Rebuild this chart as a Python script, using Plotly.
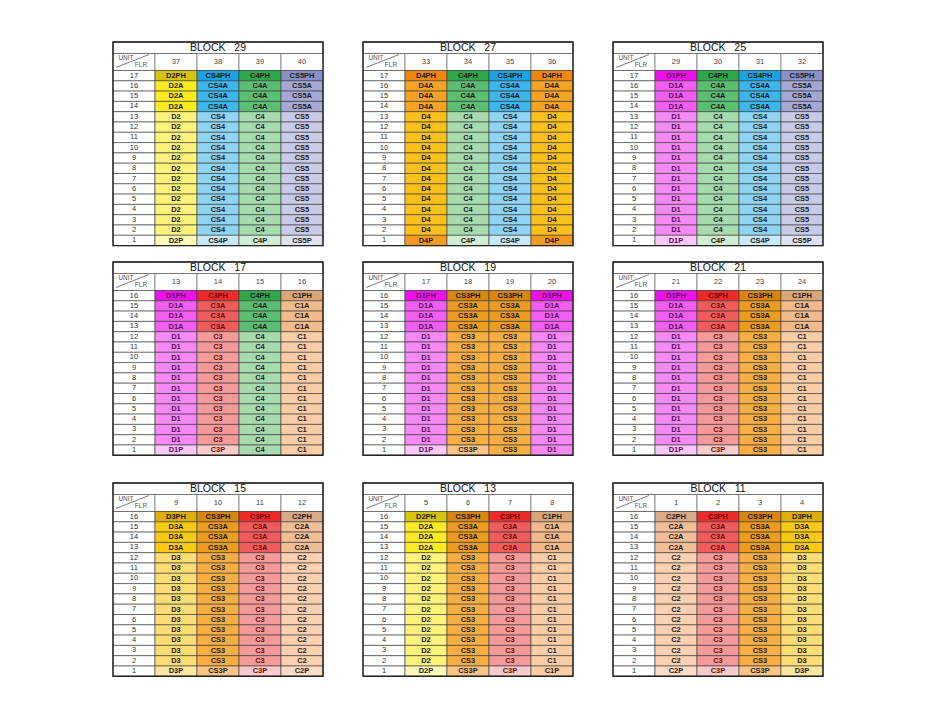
import plotly.graph_objects as go

# block layout: 3 x 3 grid of floor/unit tables
block_names = ["29", "27", "25", "17", "19", "21", "15", "13", "11"]
block_units = [
    [37, 38, 39, 40], [33, 34, 35, 36], [29, 30, 31, 32],
    [13, 14, 15, 16], [17, 18, 19, 20], [21, 22, 23, 24],
    [9, 10, 11, 12], [5, 6, 7, 8], [1, 2, 3, 4],
]
block_floors = [17, 17, 17, 16, 16, 16, 16, 16, 16]
block_types = [
    ["D2", "CS4", "C4", "CS5"], ["D4", "C4", "CS4", "D4"], ["D1", "C4", "CS4", "CS5"],
    ["D1", "C3", "C4", "C1"], ["D1", "CS3", "CS3", "D1"], ["D1", "C3", "CS3", "C1"],
    ["D3", "CS3", "C3", "C2"], ["D2", "CS3", "C3", "C1"], ["C2", "C3", "CS3", "D3"],
]
block_ground = [
    ["D2P", "CS4P", "C4P", "CS5P"], ["D4P", "C4P", "CS4P", "D4P"], ["D1P", "C4P", "CS4P", "CS5P"],
    ["D1P", "C3P", "C4", "C1"], ["D1P", "CS3P", "CS3", "D1"], ["D1P", "C3P", "CS3", "C1"],
    ["D3P", "CS3P", "C3P", "C2P"], ["D2P", "CS3P", "C3P", "C1P"], ["C2P", "C3P", "CS3P", "D3P"],
]

# colours per type: (PH, A, typical, P)
palette = {
    "D1": ("#ee10ee", "#f25ef2", "#f58af5", "#f8c8f8"),
    "D2": ("#d6c40a", "#fcea22", "#fdf27c", "#fef8b8"),
    "D3": ("#dcae06", "#fcca12", "#fddd74", "#fde6a0"),
    "D4": ("#f08612", "#f6a222", "#fcc01c", "#f59a20"),
    "C1": ("#d9a678", "#f4ba8c", "#fbcda6", "#fbcda6"),
    "C2": ("#d8aa88", "#f2be98", "#fcd0b0", "#fcdcc6"),
    "C3": ("#ee2a2a", "#f05c5c", "#f59a9a", "#f8cccc"),
    "C4": ("#2ea84a", "#5cbe72", "#a6dbae", "#d0ecd2"),
    "CS3": ("#d8860e", "#ec9c20", "#f9ae44", "#fbc487"),
    "CS4": ("#1aa2e2", "#3cb6ec", "#90d4f4", "#c9e9f8"),
    "CS5": ("#8a90c8", "#a4a8d6", "#c8cae6", "#e1e2f1"),
}
text_col = {"D1": "#5a0a5a", "C3": "#6a0a0a"}

X0 = [113, 363, 613]
Y0 = [42, 262, 483]
CW = 42
TH, HH, RH = 11.5, 17, 10.3

def cell_color(label, base):
    if label.endswith("PH"):
        return palette[base][0]
    if label.endswith("A"):
        return palette[base][1]
    if label.endswith("P"):
        return palette[base][3]
    return palette[base][2]

shapes = []
tx, ty, tt, tc, ts = [], [], [], [], []

def add_text(x, y, t, c, s):
    tx.append(x); ty.append(y); tt.append(t); tc.append(c); ts.append(s)

def rect(xa, xb, ya, yb, fill, lc="#333", lw=0.6):
    shapes.append(dict(type="rect", x0=xa, x1=xb, y0=ya, y1=yb, layer="below",
                       fillcolor=fill, line=dict(color=lc, width=lw)))

for b in range(9):
    x0 = X0[b % 3]
    y0 = Y0[b // 3]
    n = block_floors[b]
    x1 = x0 + CW * 5
    # title row
    rect(x0, x1, y0, y0 + TH, "white", "#222", 0.8)
    add_text((x0 + x1) / 2, y0 + TH / 2 + 0.5, "BLOCK   " + block_names[b], "#111", 10.5)
    # header row
    hy = y0 + TH
    for c in range(5):
        rect(x0 + c * CW, x0 + (c + 1) * CW, hy, hy + HH, "white", "#555", 0.6)
        if c > 0:
            add_text(x0 + c * CW + CW / 2, hy + HH / 2, str(block_units[b][c - 1]), "#444", 7.5)
    shapes.append(dict(type="line", x0=x0 + 3, y0=hy + HH - 3, x1=x0 + CW - 6, y1=hy + 1,
                       layer="below", line=dict(color="#444", width=0.7)))
    add_text(x0 + 13, hy + 5, "UNIT", "#555", 6.5)
    add_text(x0 + 28, hy + 12, "FLR", "#555", 6.5)
    # floor rows
    ry = hy + HH
    for r in range(n):
        floor = n - r
        yy = ry + r * RH
        rect(x0, x0 + CW, yy, yy + RH, "white")
        add_text(x0 + CW / 2, yy + RH / 2, str(floor), "#333", 7.5)
        for c in range(4):
            base = block_types[b][c]
            if floor == 1:
                label = block_ground[b][c]
            elif r == 0:
                label = base + "PH"
            elif r <= 3:
                label = base + "A"
            else:
                label = base
            rect(x0 + (c + 1) * CW, x0 + (c + 2) * CW, yy, yy + RH, cell_color(label, base))
            add_text(x0 + (c + 1) * CW + CW / 2, yy + RH / 2 + 0.3, "<b>" + label + "</b>",
                     text_col.get(base, "#1a1a1a"), 7.5)
    # outer border
    shapes.append(dict(type="rect", x0=x0, x1=x1, y0=y0, y1=ry + n * RH, layer="below",
                       line=dict(color="#222", width=1.4)))

fig = go.Figure(go.Scatter(x=tx, y=ty, text=tt, mode="text", hoverinfo="skip",
                           textfont=dict(color=tc, size=ts, family="Liberation Sans, Arial")))
# page body adds an 8px offset, so shift the visible range to compensate
fig.update_layout(
    width=943, height=717, margin=dict(l=0, r=0, t=0, b=0),
    paper_bgcolor="white", plot_bgcolor="rgba(0,0,0,0)", showlegend=False, shapes=shapes,
    xaxis=dict(range=[8, 951], visible=False, fixedrange=True),
    yaxis=dict(range=[725, 8], visible=False, fixedrange=True),
)
fig.write_html("out.html")
